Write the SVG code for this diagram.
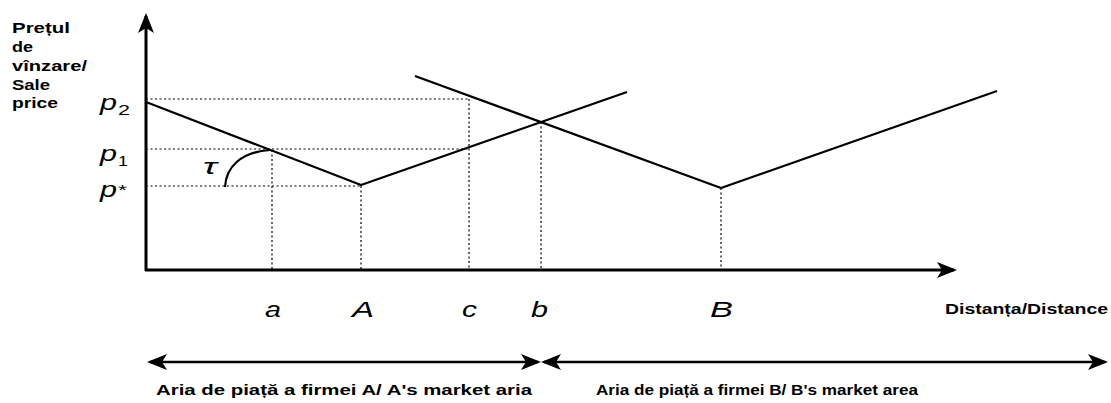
<svg xmlns="http://www.w3.org/2000/svg" width="1111" height="403" viewBox="0 0 1111 403">
<style>
.bg{fill:#fff}
.axis{stroke:#000;stroke-width:3;fill:none}
.curve{stroke:#000;stroke-width:2.2;fill:none;stroke-linejoin:round}
.guide{stroke:#000;stroke-width:1.2;fill:none;stroke-dasharray:2 2.5}
.range{stroke:#000;stroke-width:2.5;fill:none}
.bold{font-family:"Liberation Sans",Arial,sans-serif;font-weight:bold;font-size:14px;fill:#000}
.ital{font-family:"Liberation Sans",Arial,sans-serif;font-style:italic;font-size:22px;fill:#000}
.sub{font-family:"Liberation Sans",Arial,sans-serif;font-size:15px;fill:#000}
</style>
<defs>
<marker id="ah" viewBox="0 0 20 16" refX="17" refY="8" markerWidth="20" markerHeight="16" markerUnits="userSpaceOnUse" orient="auto-start-reverse">
<path d="M0,0 L20,8 L0,16 L5,8 z" fill="#000"/>
</marker>
</defs>
<rect class="bg" x="0" y="0" width="1111" height="403"/>

<g id="axes">
<line class="axis" x1="146" y1="271" x2="146" y2="16" marker-end="url(#ah)"/>
<line class="axis" x1="145" y1="270" x2="954" y2="270" marker-end="url(#ah)"/>
</g>

<g id="guides">
<line class="guide" x1="146" y1="99" x2="469" y2="99"/>
<line class="guide" x1="146" y1="149" x2="470" y2="149"/>
<line class="guide" x1="146" y1="186" x2="361" y2="186"/>
<line class="guide" x1="272" y1="150" x2="272" y2="270"/>
<line class="guide" x1="361" y1="186" x2="361" y2="270"/>
<line class="guide" x1="469" y1="99" x2="469" y2="270"/>
<line class="guide" x1="541" y1="122" x2="541" y2="270"/>
<line class="guide" x1="721" y1="188" x2="721" y2="270"/>
</g>

<g id="price-A">
<polyline class="curve" points="146,102 361,185 627,92"/>
</g>
<g id="price-B">
<polyline class="curve" points="415,76 721,188 997,91"/>
</g>
<g id="tau">
<path class="curve" d="M225,187 C226,167 241,152 270,150" stroke-width="2.8"/>
<text class="ital" x="203" y="174" font-size="20" textLength="14" lengthAdjust="spacingAndGlyphs">τ</text>
</g>

<g id="y-label">
<text class="bold" x="12" y="33" textLength="58" lengthAdjust="spacingAndGlyphs">Prețul</text>
<text class="bold" x="12" y="52" textLength="21" lengthAdjust="spacingAndGlyphs">de</text>
<text class="bold" x="12" y="71" textLength="75" lengthAdjust="spacingAndGlyphs">vînzare/</text>
<text class="bold" x="12" y="90" textLength="38" lengthAdjust="spacingAndGlyphs">Sale</text>
<text class="bold" x="12" y="108" textLength="46" lengthAdjust="spacingAndGlyphs">price</text>
</g>

<g id="p-labels">
<text class="ital" x="100" y="110" font-size="20" textLength="17" lengthAdjust="spacingAndGlyphs">p</text>
<text class="sub" x="118" y="115" textLength="12" lengthAdjust="spacingAndGlyphs">2</text>
<text class="ital" x="100" y="161" font-size="20" textLength="17" lengthAdjust="spacingAndGlyphs">p</text>
<text class="sub" x="118" y="166" textLength="10" lengthAdjust="spacingAndGlyphs">1</text>
<text class="ital" x="100" y="197" font-size="20" textLength="17" lengthAdjust="spacingAndGlyphs">p</text>
<text class="sub" x="118" y="195" font-size="17" textLength="9" lengthAdjust="spacingAndGlyphs">*</text>
</g>

<g id="x-labels">
<text class="ital" x="265" y="317" textLength="16" lengthAdjust="spacingAndGlyphs">a</text>
<text class="ital" x="352" y="317" textLength="22" lengthAdjust="spacingAndGlyphs">A</text>
<text class="ital" x="462" y="317" textLength="15" lengthAdjust="spacingAndGlyphs">c</text>
<text class="ital" x="531" y="317" textLength="17" lengthAdjust="spacingAndGlyphs">b</text>
<text class="ital" x="710" y="317" textLength="23" lengthAdjust="spacingAndGlyphs">B</text>
<text class="bold" x="945" y="314" textLength="163" lengthAdjust="spacingAndGlyphs">Distanța/Distance</text>
</g>

<g id="market-A">
<line class="range" x1="150" y1="362" x2="538" y2="362" marker-start="url(#ah)" marker-end="url(#ah)"/>
<text class="bold" x="156" y="395" font-size="15" textLength="376" lengthAdjust="spacingAndGlyphs">Aria de piață a firmei A/ A's market aria</text>
</g>
<g id="market-B">
<line class="range" x1="544" y1="362" x2="1105" y2="362" marker-start="url(#ah)" marker-end="url(#ah)"/>
<text class="bold" x="596" y="395" font-size="15" textLength="322" lengthAdjust="spacingAndGlyphs">Aria de piață a firmei B/ B's market area</text>
</g>
</svg>
